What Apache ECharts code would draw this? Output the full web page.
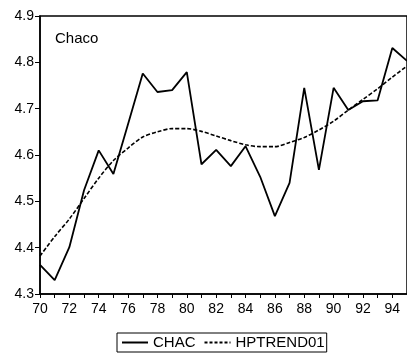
<!DOCTYPE html>
<html>
<head>
<meta charset="utf-8">
<script src="https://cdn.jsdelivr.net/npm/echarts@6/dist/echarts.min.js"></script>
<style>
html, body { margin: 0; padding: 0; background: #fff; }
#chart { width: 407px; height: 356px; }
</style>
</head>
<body>
<div id="chart"></div>
<script>
var years = ['70','71','72','73','74','75','76','77','78','79','80','81','82',
    '83','84','85','86','87','88','89','90','91','92','93','94','95'];
var chac = [4.363, 4.330, 4.401, 4.524, 4.610, 4.559, 4.667, 4.776, 4.736, 4.740,
    4.779, 4.580, 4.611, 4.576, 4.619, 4.553, 4.468, 4.540, 4.745, 4.568,
    4.745, 4.697, 4.716, 4.718, 4.831, 4.803];
var hptrend = [4.382, 4.424, 4.462, 4.506, 4.550, 4.588, 4.615, 4.639, 4.650, 4.657,
    4.657, 4.651, 4.641, 4.631, 4.622, 4.618, 4.618, 4.627, 4.638, 4.654,
    4.673, 4.697, 4.720, 4.743, 4.768, 4.792];

var myChart = echarts.init(document.getElementById('chart'));
var font = 'Liberation Sans, Arial, sans-serif';

// legend keys: a solid bar and a dashed bar (drawn as paths so no circle marker shows)
var solidIcon = 'path://M0,0H26V2H0Z';
var dashIcon = 'path://M0,0H3V2H0Z M5,0H8V2H5Z M10,0H13V2H10Z M15,0H18V2H15Z M20,0H23V2H20Z M25,0H26V2H25Z';

var option = {
    backgroundColor: '#fff',
    animation: false,
    textStyle: { fontFamily: font },
    title: {
        text: 'Chaco',
        left: 50,
        top: 26,
        textStyle: { fontSize: 15, fontWeight: 'normal', color: '#000', fontFamily: font }
    },
    grid: {
        left: 40,
        top: 16,
        width: 369,
        height: 278,
        show: true,
        borderColor: '#000',
        borderWidth: 1.5
    },
    legend: {
        bottom: 4,
        left: 117,
        itemWidth: 26,
        itemHeight: 2,
        itemGap: 9,
        padding: [2, 2, 2, 5],
        borderColor: '#000',
        borderWidth: 1,
        borderRadius: 0,
        textStyle: { fontSize: 15, color: '#000', fontFamily: font },
        data: [
            { name: 'CHAC', icon: solidIcon },
            { name: 'HPTREND01', icon: dashIcon }
        ]
    },
    xAxis: {
        type: 'category',
        boundaryGap: false,
        data: years,
        axisLine: { lineStyle: { color: '#000', width: 1.5 } },
        axisTick: { show: true, length: 4, interval: 0, lineStyle: { color: '#000' } },
        axisLabel: {
            interval: function (i) { return i % 2 === 0; },
            color: '#000',
            fontSize: 14,
            margin: 8
        },
        splitLine: { show: false }
    },
    yAxis: {
        type: 'value',
        min: 4.3,
        max: 4.9,
        interval: 0.1,
        axisLine: { show: true, lineStyle: { color: '#000', width: 1.5 } },
        axisTick: { show: true, length: 5, lineStyle: { color: '#000' } },
        axisLabel: {
            color: '#000',
            fontSize: 14,
            margin: 6,
            formatter: function (v) { return v.toFixed(1); }
        },
        splitLine: { show: false }
    },
    series: [
        {
            name: 'CHAC',
            type: 'line',
            data: chac,
            symbol: 'none',
            lineStyle: { color: '#000', width: 1.8 },
            itemStyle: { color: '#000' }
        },
        {
            name: 'HPTREND01',
            type: 'line',
            data: hptrend,
            symbol: 'none',
            smooth: 0.3,
            lineStyle: { color: '#000', width: 1.6, type: [4, 2] },
            itemStyle: { color: '#000' }
        }
    ]
};
myChart.setOption(option);
</script>
</body>
</html>
